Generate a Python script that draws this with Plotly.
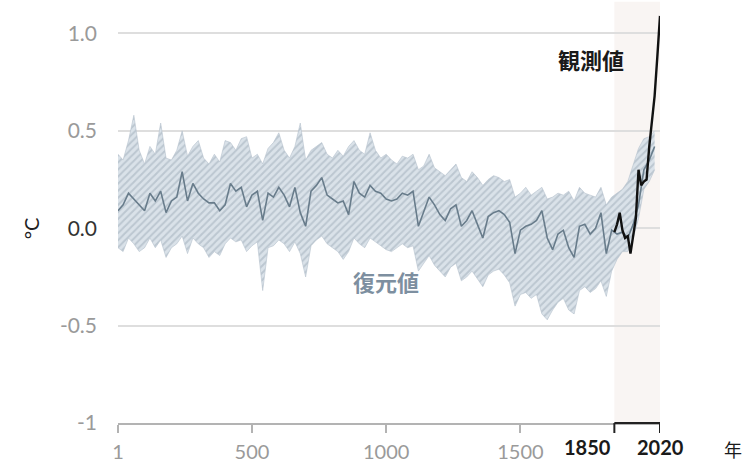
import plotly.graph_objects as go

# ---------------- data ----------------
recon_years = [1] + list(range(20, 2001, 20))
recon_mean = [0.09, 0.12, 0.18, 0.15, 0.12, 0.09, 0.18, 0.14, 0.19, 0.08,
              0.14, 0.16, 0.29, 0.14, 0.23, 0.18, 0.15, 0.13, 0.13, 0.09,
              0.12, 0.23, 0.19, 0.21, 0.11, 0.17, 0.19, 0.04, 0.18, 0.16,
              0.21, 0.17, 0.11, 0.21, 0.08, 0.01, 0.19, 0.22, 0.26, 0.17,
              0.15, 0.13, 0.14, 0.07, 0.24, 0.18, 0.16, 0.22, 0.19, 0.18,
              0.15, 0.14, 0.15, 0.18, 0.17, 0.19, 0.01, 0.08, 0.16, 0.12,
              0.07, 0.04, 0.10, 0.12, 0.01, 0.04, 0.09, 0.02, -0.05, 0.06,
              0.08, 0.09, 0.07, 0.03, -0.13, -0.01, 0.01, 0.02, 0.04, 0.09,
              -0.05, -0.11, -0.03, -0.01, -0.10, -0.15, 0.01, 0.02, -0.03, 0.00,
              0.08, -0.13, -0.01, -0.03, -0.02, -0.05, 0.02, 0.12, 0.30, 0.35,
              0.42]
recon_upper = [0.38, 0.35, 0.45, 0.58, 0.40, 0.33, 0.42, 0.38, 0.54, 0.36,
               0.35, 0.40, 0.50, 0.37, 0.42, 0.45, 0.36, 0.33, 0.38, 0.34,
               0.45, 0.44, 0.40, 0.46, 0.47, 0.36, 0.38, 0.33, 0.41, 0.44,
               0.49, 0.40, 0.36, 0.42, 0.54, 0.35, 0.40, 0.42, 0.44, 0.38,
               0.36, 0.40, 0.37, 0.42, 0.45, 0.40, 0.38, 0.49, 0.40, 0.36,
               0.38, 0.35, 0.33, 0.37, 0.36, 0.38, 0.30, 0.32, 0.38, 0.31,
               0.29, 0.27, 0.30, 0.33, 0.26, 0.24, 0.29, 0.26, 0.22, 0.25,
               0.27, 0.26, 0.24, 0.25, 0.16, 0.18, 0.21, 0.17, 0.19, 0.21,
               0.15, 0.16, 0.18, 0.17, 0.19, 0.14, 0.21, 0.18, 0.17, 0.16,
               0.21, 0.12, 0.16, 0.18, 0.20, 0.24, 0.33, 0.41, 0.46, 0.47,
               0.50]
recon_lower = [-0.10, -0.12, -0.05, -0.08, -0.12, -0.10, -0.05, -0.10, -0.06, -0.15,
               -0.10, -0.08, -0.04, -0.13, -0.05, -0.08, -0.10, -0.15, -0.12, -0.14,
               -0.08, -0.05, -0.07, -0.06, -0.12, -0.09, -0.07, -0.32, -0.10, -0.09,
               -0.06, -0.08, -0.12, -0.07, -0.13, -0.25, -0.09, -0.06, -0.04, -0.08,
               -0.10, -0.12, -0.16, -0.12, -0.05, -0.08, -0.10, -0.05, -0.07, -0.09,
               -0.11, -0.12, -0.10, -0.08, -0.10, -0.09, -0.22, -0.18, -0.14, -0.19,
               -0.22, -0.25, -0.20, -0.18, -0.27, -0.25, -0.22, -0.26, -0.30, -0.24,
               -0.22, -0.21, -0.24, -0.28, -0.40, -0.34, -0.33, -0.36, -0.34, -0.44,
               -0.47, -0.42, -0.38, -0.36, -0.42, -0.44, -0.32, -0.30, -0.33, -0.31,
               -0.27, -0.35, -0.22, -0.16, -0.12, -0.12, -0.05, 0.05, 0.20, 0.24,
               0.30]

obs_years = [1850, 1860, 1870, 1880, 1890, 1900, 1910, 1920, 1930, 1940,
             1950, 1960, 1970, 1980, 1990, 2000, 2010, 2020]
obs_vals = [-0.02, 0.02, 0.08, -0.01, -0.05, -0.04, -0.13, -0.04, 0.05, 0.30,
            0.22, 0.24, 0.25, 0.42, 0.55, 0.68, 0.88, 1.09]

x_tick_vals = [1, 500, 1000, 1500]
x_tick_text = ["1", "500", "1000", "1500"]
y_tick_vals = [-1, -0.5, 0, 0.5, 1.0]
y_tick_text = ["-1", "-0.5", "<span style='color:#333333'>0.0</span>", "0.5", "1.0"]
obs_start, obs_end = 1850, 2020

# ---------------- figure ----------------
fig = go.Figure()

fig.add_trace(go.Scatter(x=recon_years, y=recon_upper, mode="lines",
                         line=dict(width=0.6, color="#b5c1cc"),
                         showlegend=False, hoverinfo="skip"))
fig.add_trace(go.Scatter(x=recon_years, y=recon_lower, mode="lines",
                         line=dict(width=0.6, color="#b5c1cc"),
                         fill="tonexty", fillcolor="#d6dee6",
                         fillpattern=dict(shape="/", bgcolor="#dae2e9",
                                          fgcolor="#9dabb8", size=5, solidity=0.4),
                         showlegend=False, hoverinfo="skip"))
fig.add_trace(go.Scatter(x=recon_years, y=recon_mean, mode="lines",
                         line=dict(width=1.6, color="#687c8b"),
                         showlegend=False))
fig.add_trace(go.Scatter(x=obs_years, y=obs_vals, mode="lines",
                         line=dict(width=2.4, color="#111111"),
                         showlegend=False))

# observation period shading
fig.add_shape(type="rect", xref="x", yref="paper", x0=obs_start, x1=obs_end,
              y0=0, y1=1.03, fillcolor="#f9f5f3", line=dict(width=0), layer="below")

# black bracket for observation period on the x axis
fig.add_shape(type="line", xref="x", yref="paper", x0=obs_start, x1=obs_end, y0=0, y1=0,
              line=dict(color="#222222", width=2))
for xv in (obs_start, obs_end):
    fig.add_shape(type="line", xref="x", yref="paper", ysizemode="pixel", yanchor=0,
                  x0=xv, x1=xv, y0=0, y1=-10, line=dict(color="#222222", width=2))

font_main = "Lato, 'Noto Sans CJK JP', sans-serif"
cjk = "'Noto Sans CJK JP', sans-serif"

fig.add_annotation(x=obs_start, y=0, xref="x", yref="paper", text="<b>1850</b>",
                   showarrow=False, xanchor="right", yanchor="top", xshift=-1, yshift=-10,
                   font=dict(size=20, color="#1a1a1a", family=font_main))
fig.add_annotation(x=obs_end, y=0, xref="x", yref="paper", text="<b>2020</b>",
                   showarrow=False, xanchor="center", yanchor="top", yshift=-10,
                   font=dict(size=20, color="#1a1a1a", family=font_main))
fig.add_annotation(x=obs_end, y=0, xref="x", yref="paper", text="年",
                   showarrow=False, xanchor="center", yanchor="top", xshift=73, yshift=-11,
                   font=dict(size=18, color="#1a1a1a", family=cjk))
fig.add_annotation(x=0, y=0, xref="paper", yref="y", text="°C", textangle=-90,
                   showarrow=False, xanchor="center", yanchor="middle", xshift=-87,
                   font=dict(size=20, color="#222222", family=font_main))

fig.add_annotation(x=1850, y=0.87, xref="x", yref="y", text="<b>観測値</b>",
                   showarrow=False, xanchor="center", yanchor="middle", xshift=-23,
                   font=dict(size=22, color="#1a1a1a", family=cjk))
fig.add_annotation(x=1000, y=-0.27, xref="x", yref="y", text="<b>復元値</b>",
                   showarrow=False, xanchor="center", yanchor="middle",
                   font=dict(size=22, color="#7d8fa0", family=cjk))

fig.update_layout(
    width=747, height=464,
    margin=dict(l=118, r=87, t=14, b=41, autoexpand=False),
    paper_bgcolor="white", plot_bgcolor="white",
    font=dict(family=font_main, color="#9a9a9a", size=20),
    xaxis=dict(range=[1, 2020], tickmode="array", tickvals=x_tick_vals, ticktext=x_tick_text,
               showgrid=False, zeroline=False, showline=True, linecolor="#b3b3b3", linewidth=2,
               ticks="outside", ticklen=8, tickwidth=1.5, tickcolor="#b3b3b3", automargin=False,
               tickfont=dict(size=20, color="#9a9a9a"), ticklabelstandoff=2),
    yaxis=dict(range=[-1, 1.1], tickmode="array", tickvals=y_tick_vals, ticktext=y_tick_text,
               showgrid=True, gridcolor="#dedede", gridwidth=2, zeroline=False, showline=False,
               ticks="", tickfont=dict(size=21, color="#9a9a9a"), ticklabelstandoff=20,
               automargin=False),
)

fig.write_html("out.html", config={"displayModeBar": False},
               post_script="document.body.style.margin='0';document.body.style.overflow='hidden';")
